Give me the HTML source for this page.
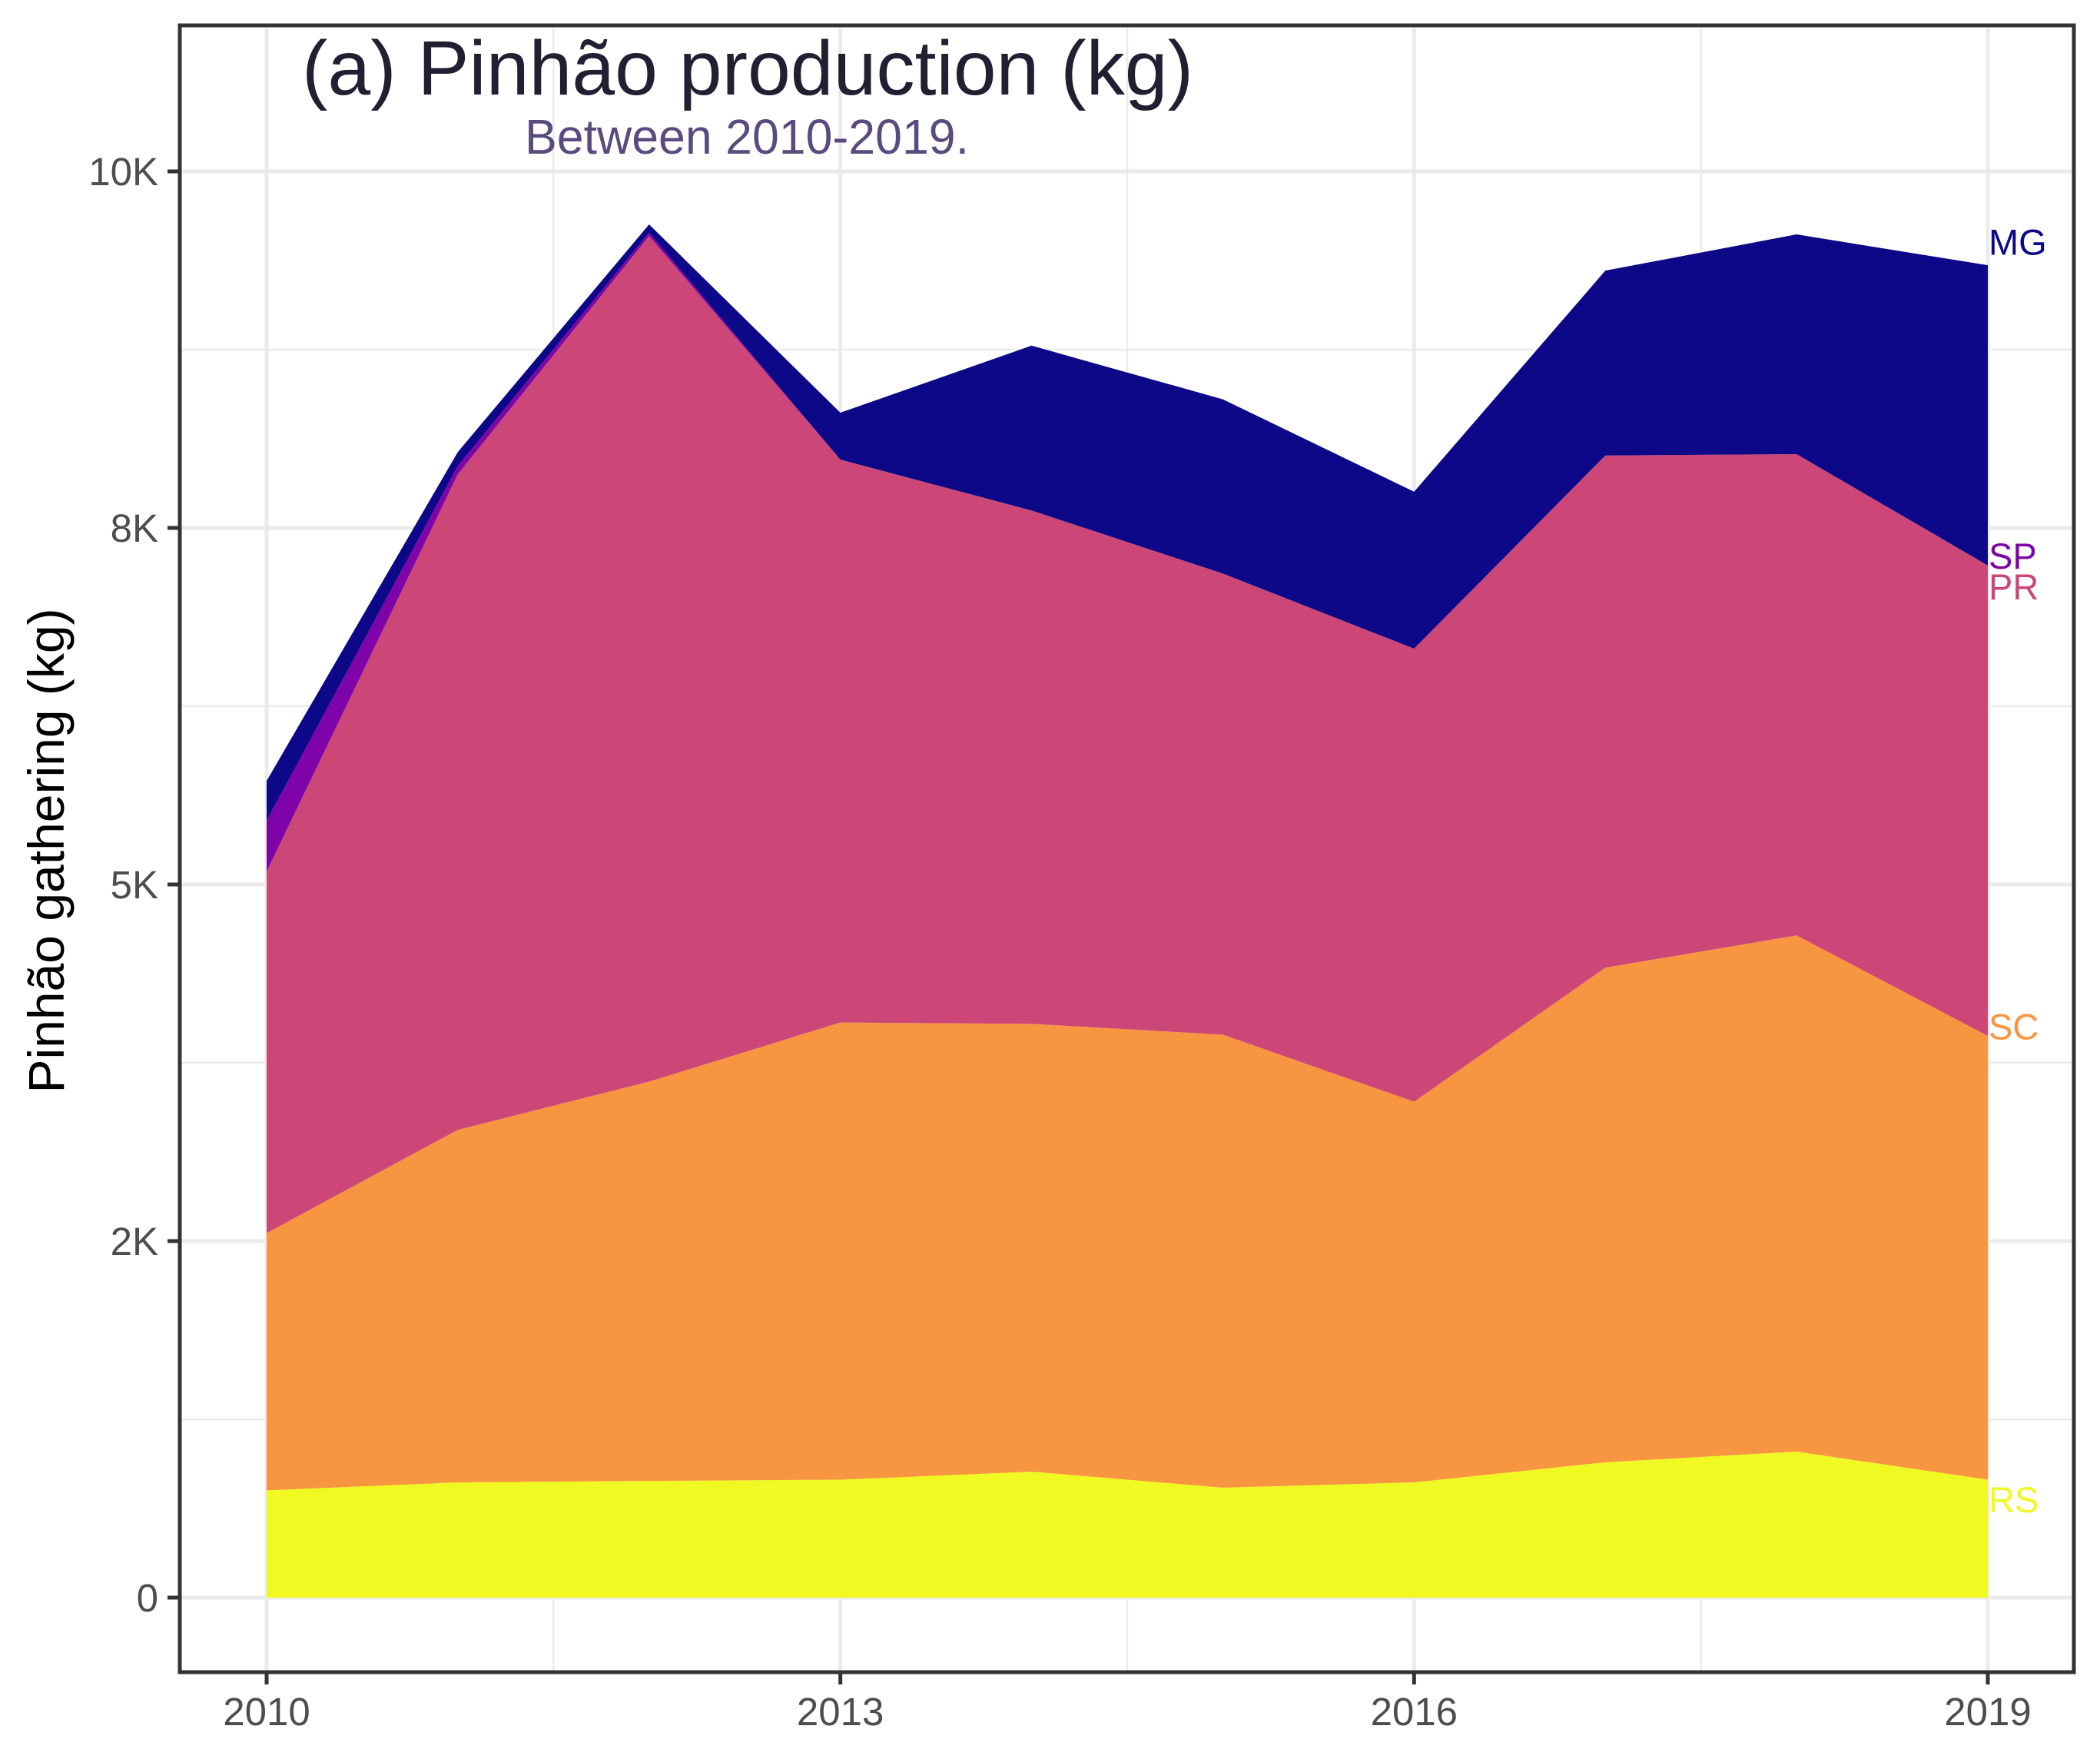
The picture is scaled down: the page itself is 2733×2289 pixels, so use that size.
<!DOCTYPE html>
<html><head><meta charset="utf-8"><style>
html,body{margin:0;padding:0;background:#fff;}
svg{display:block;}
text{font-family:"Liberation Sans",Arial,sans-serif;}
</style></head>
<body>
<svg id="chart" xmlns="http://www.w3.org/2000/svg" width="2733" height="2289" viewBox="0 0 2733 2289">
<rect x="0" y="0" width="2733" height="2289" fill="#fff"/>
<g id="grid"></g>
<g id="areas"></g>
<g id="labels"></g>
<rect x="234" y="33" width="2465" height="2143" fill="none" stroke="#333" stroke-width="5"/>
<g id="axes"></g>
<text x="393" y="123" font-size="100" fill="#231f33" textLength="1160" lengthAdjust="spacingAndGlyphs">(a) Pinhão production (kg)</text>
<text x="683" y="200" font-size="64" fill="#5a4a7e" textLength="578" lengthAdjust="spacingAndGlyphs">Between 2010-2019.</text>
<text transform="translate(83,1107) rotate(-90)" text-anchor="middle" font-size="66" fill="#000">Pinhão gathering (kg)</text>
</svg>
<script>
const years = [2010,2011,2012,2013,2014,2015,2016,2017,2018,2019];
const seriesNames = ["RS","SC","PR","SP","MG"];
const valuesRS = [752,808,818,827,883,771,808,949,1024,827];
const valuesSC = [1804,2472,2800,3205,3140,3176,2669,3468,3619,3111];
const valuesPR = [2535,4597,5929,3947,3599,3233,3177,3591,3374,3299];
const valuesSP = [356,58,23,0,0,0,0,0,0,0];
const valuesMG = [280,98,58,329,1156,1222,1100,1296,1541,2105];
const seriesColors = ["#f0f921","#f89540","#cc4778","#7e03a8","#0d0887"];
const yTickValues = [0,2500,5000,7500,10000];
const yTickLabels = ["0","2K","5K","8K","10K"];
const xTickValues = [2010,2013,2016,2019];
const xTickLabels = ["2010","2013","2016","2019"];

const NS="http://www.w3.org/2000/svg";
function xs(yr){return 347+(yr-2010)*(2587-347)/9;}
function ys(v){return 2079-v*0.1856;}
function mk(tag,attrs,parent){const e=document.createElementNS(NS,tag);for(const k in attrs)e.setAttribute(k,attrs[k]);parent.appendChild(e);return e;}

const grid=document.getElementById('grid');
for(let v=1250;v<=10000;v+=2500){const l=mk('line',{x1:234,x2:2699,y1:ys(v),y2:ys(v),stroke:'#ebebeb','stroke-width':2.5},grid);

}
for(const yr of [2011.5,2014.5,2017.5]){const l=mk('line',{x1:xs(yr),x2:xs(yr),y1:33,y2:2176,stroke:'#ebebeb','stroke-width':2.5},grid);

}
yTickValues.forEach(v=>{const l=mk('line',{x1:234,x2:2699,y1:ys(v),y2:ys(v),stroke:'#ebebeb','stroke-width':5},grid);

});
xTickValues.forEach(v=>{const l=mk('line',{x1:xs(v),x2:xs(v),y1:33,y2:2176,stroke:'#ebebeb','stroke-width':5},grid);

});

const all=[valuesRS,valuesSC,valuesPR,valuesSP,valuesMG];
const areas=document.getElementById('areas');
let base=years.map(()=>0);
const tops=[];
all.forEach((vals,i)=>{
  const top=base.map((b,j)=>b+vals[j]);
  let d='M'+years.map((y,j)=>xs(y)+','+ys(top[j])).join(' L');
  for(let j=years.length-1;j>=0;j--) d+=' L'+xs(years[j])+','+ys(base[j]);
  d+=' Z';
  const p=mk('path',{d:d,fill:seriesColors[i]},areas);
  
  
  tops.push(top);
  base=top;
});

const labels=document.getElementById('labels');
const labelOffsets=[30,-8,32,-8,-26];
seriesNames.forEach((n,i)=>{
  const t=mk('text',{x:2588,y:ys(tops[i][9])+labelOffsets[i],'font-size':47,fill:seriesColors[i],'dominant-baseline':'middle'},labels);
  t.textContent=n;
  
  
});

const axes=document.getElementById('axes');
yTickValues.forEach((v,i)=>{
  const tk=mk('line',{x1:218,x2:234,y1:ys(v),y2:ys(v),stroke:'#333','stroke-width':5},axes);
  
  
  const t=mk('text',{x:206,y:ys(v)+18,'font-size':51,fill:'#4d4d4d','text-anchor':'end'},axes);
  t.textContent=yTickLabels[i];
  
  
});
xTickValues.forEach((v,i)=>{
  const tk=mk('line',{x1:xs(v),x2:xs(v),y1:2176,y2:2192,stroke:'#333','stroke-width':5},axes);
  
  
  const t=mk('text',{x:xs(v),y:2245,'font-size':51,fill:'#4d4d4d','text-anchor':'middle'},axes);
  t.textContent=xTickLabels[i];
  
  
});
</script>
</body></html>
